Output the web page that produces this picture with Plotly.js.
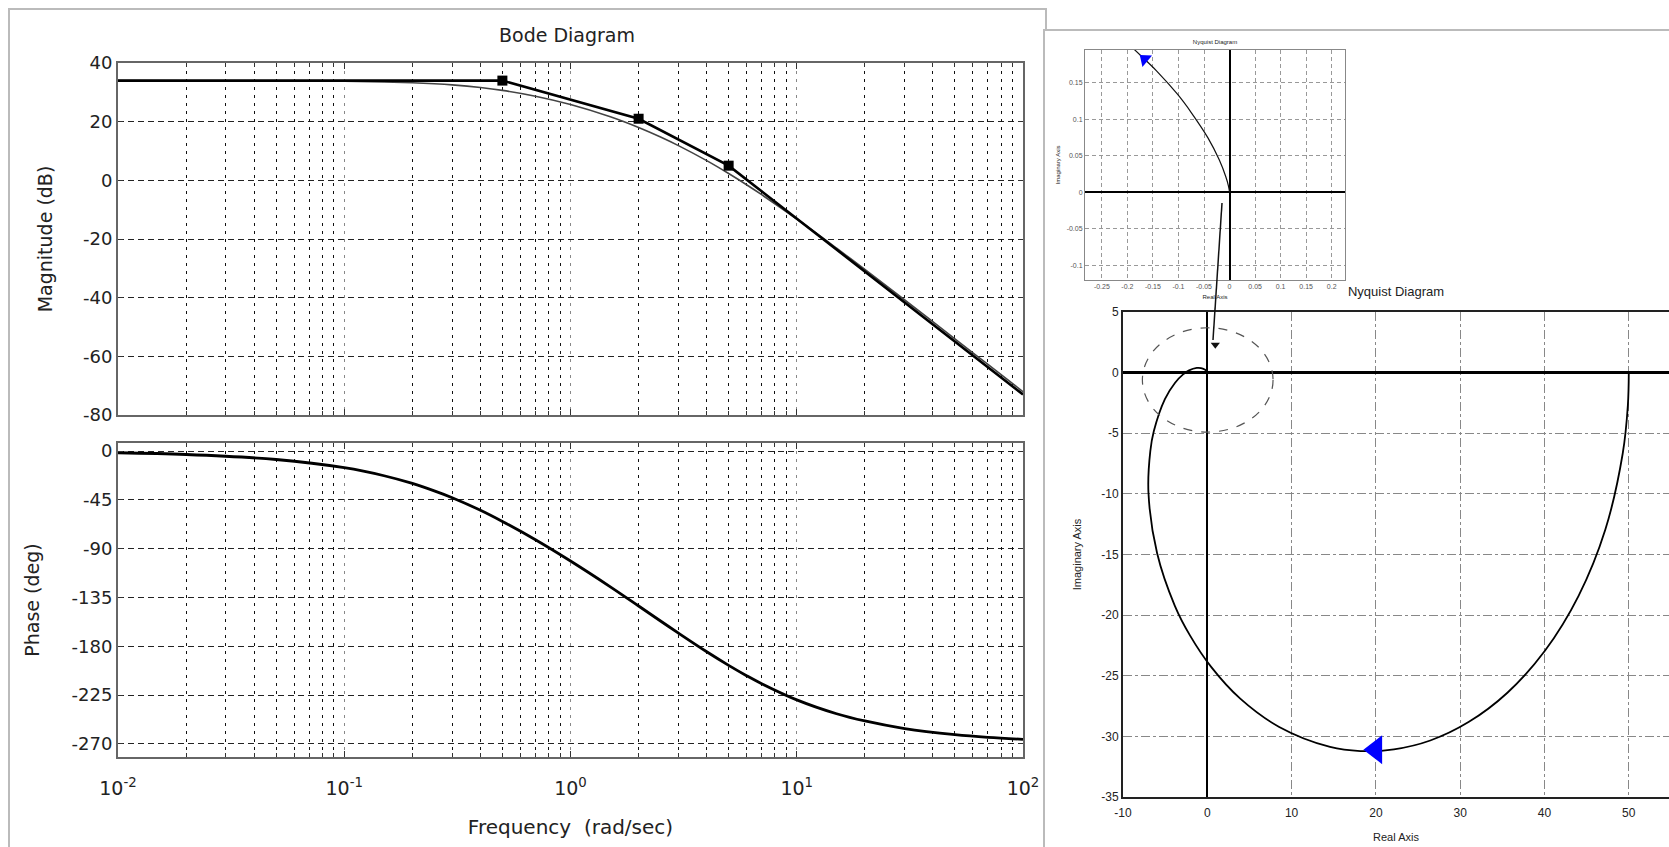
<!DOCTYPE html>
<html><head><meta charset="utf-8">
<script src="https://cdn.plot.ly/plotly-3.0.1.min.js"></script>
<style>html,body{margin:0;padding:0;background:#fff;overflow:hidden}#chart{width:1669px;height:847px}</style>
</head><body><div id="chart"></div>
<script>
// ---------- data ----------
const freq = [0.01, 0.02, 0.05, 0.1, 0.15, 0.2, 0.25, 0.3, 0.4, 0.5, 0.7, 1, 1.5, 2, 2.5, 3, 4, 5, 6, 7, 10, 15, 20, 30, 50, 70, 100];
const magDb = [33.98, 33.97, 33.93, 33.80, 33.58, 33.28, 32.93, 32.53, 31.63, 30.66, 28.68, 25.85, 21.67, 18.02, 14.77, 11.84, 6.71, 2.32, -1.50, -4.90, -13.19, -23.15, -30.40, -40.80, -54.03, -62.78, -72.05];
const phaseDeg = [-1.5, -3.1, -7.7, -15.3, -22.7, -29.8, -36.6, -42.9, -54.5, -64.8, -81.7, -101.3, -125.1, -142.8, -156.6, -167.8, -185.0, -197.5, -207.0, -214.4, -229.3, -242.1, -248.8, -255.8, -261.4, -263.9, -265.7];
const asymFreq = [0.01, 0.5, 2, 5, 100];
const asymDb = [34, 34, 21, 5, -73];
const cornerFreq = [0.5, 2, 5];
const cornerDb = [34, 21, 5];

const nyqRe = [50, 49.89, 49.28, 47.22, 44.03, 40.05, 35.60, 30.99, 26.45, 22.14, 18.16, 14.56, 8.53, 3.91, 0.48, -2.04, -3.85, -5.96, -6.98, -6.76, -6.34, -5.03, -3.82, -2.87, -2.16, -1.25, -0.75, -0.31, -0.14, -0.03, 0];
const nyqIm = [0, -2.69, -6.67, -12.94, -18.43, -22.94, -26.40, -28.82, -30.34, -31.07, -31.21, -30.87, -29.22, -26.89, -24.29, -21.69, -19.23, -14.88, -9.91, -6.47, -4.82, -2.18, -0.83, -0.14, 0.19, 0.39, 0.38, 0.26, 0.17, 0.06, 0.01];
const nyqArrowRe = [20];
const nyqArrowIm = [-31.1];
const pointerTipRe = [0.95];
const pointerTipIm = [2.3];

const zoomRe = [-0.206, -0.171, -0.143, -0.102, -0.075, -0.042, -0.020, -0.0075, -0.0022, 0];
const zoomIm = [0.208, 0.185, 0.166, 0.134, 0.109, 0.074, 0.044, 0.0215, 0.0088, 0.0];
const zoomArrowRe = [-0.166];
const zoomArrowIm = [0.182];

const magTicks = [-80, -60, -40, -20, 0, 20, 40];
const magLabels = ['-80', '-60', '-40', '-20', '0', '20', '40'];
const phaseTicks = [-270, -225, -180, -135, -90, -45, 0];
const phaseLabels = ['-270', '-225', '-180', '-135', '-90', '-45', '0'];
const freqDecades = [0.01, 0.1, 1, 10, 100];
const freqDecadeLabels = ['10<sup>-2</sup>', '10<sup>-1</sup>', '10<sup>0</sup>', '10<sup>1</sup>', '10<sup>2</sup>'];
const nyqXTicks = [-10, 0, 10, 20, 30, 40, 50];
const nyqXLabels = ['-10', '0', '10', '20', '30', '40', '50'];
const nyqYTicks = [5, 0, -5, -10, -15, -20, -25, -30, -35];
const nyqYLabels = ['5', '0', '-5', '-10', '-15', '-20', '-25', '-30', '-35'];
const insetXTicks = [-0.25, -0.2, -0.15, -0.1, -0.05, 0, 0.05, 0.1, 0.15, 0.2];
const insetXLabels = ['-0.25', '-0.2', '-0.15', '-0.1', '-0.05', '0', '0.05', '0.1', '0.15', '0.2'];
const insetYTicks = [-0.1, -0.05, 0, 0.05, 0.1, 0.15];
const insetYLabels = ['-0.1', '-0.05', '0', '0.05', '0.1', '0.15'];

// ---------- layout helpers ----------
const W = 1669, H = 847;
const px = x => x / W;
const py = y => 1 - y / H;
const dom = (a, b) => [a / W, b / W];
const domY = (top, bottom) => [1 - bottom / H, 1 - top / H];

// log grid positions 2..9 within each decade
const minorVals = [];
for (let d = -2; d <= 1; d++) {
  for (let m = 2; m <= 9; m++) minorVals.push(m * Math.pow(10, d));
}

const FONT = 'DejaVu Sans, Verdana, sans-serif';
const NARROW = 'Liberation Sans Narrow, Arial Narrow, Liberation Sans, Arial, sans-serif';
const TXT = '#222';

const traces = [
  {x: freq, y: magDb, xaxis: 'x', yaxis: 'y', mode: 'lines', line: {color: '#444', width: 1.6, shape: 'spline'}},
  {x: asymFreq, y: asymDb, xaxis: 'x', yaxis: 'y', mode: 'lines', line: {color: '#000', width: 2.6}},
  {x: cornerFreq, y: cornerDb, xaxis: 'x', yaxis: 'y', mode: 'markers', marker: {symbol: 'square', size: 10, color: '#000'}},
  {x: freq, y: phaseDeg, xaxis: 'x2', yaxis: 'y2', mode: 'lines', line: {color: '#000', width: 2.8, shape: 'spline'}},
  {x: zoomRe, y: zoomIm, xaxis: 'x3', yaxis: 'y3', mode: 'lines', line: {color: '#111', width: 1.2, shape: 'spline'}},
  {x: zoomArrowRe, y: zoomArrowIm, xaxis: 'x3', yaxis: 'y3', mode: 'markers', marker: {symbol: 'triangle-left', angle: 40, size: 13, color: '#0000ff'}},
  {x: nyqRe, y: nyqIm, xaxis: 'x4', yaxis: 'y4', mode: 'lines', line: {color: '#000', width: 1.8, shape: 'spline'}},
  {x: nyqArrowRe, y: nyqArrowIm, xaxis: 'x4', yaxis: 'y4', mode: 'markers', marker: {symbol: 'triangle-left', size: 25, color: '#0000ff'}},
  {x: pointerTipRe, y: pointerTipIm, xaxis: 'x4', yaxis: 'y4', mode: 'markers', marker: {symbol: 'triangle-down', size: 8, color: '#111'}}
];
// empty carrier traces so that the helper axes (minor grids / titles) are drawn
[['x5', 'y'], ['x6', 'y2'], ['x7', 'y2'], ['x8', 'y3'], ['x9', 'y3'], ['x10', 'y4'], ['x11', 'y4'],
 ['x', 'y5'], ['x2', 'y6'], ['x3', 'y7'], ['x4', 'y8']].forEach(p => {
  traces.push({x: [null], y: [null], xaxis: p[0], yaxis: p[1], mode: 'lines', hoverinfo: 'skip', showlegend: false});
});

const bodeX = {
  type: 'log', range: [-2, 2], tickmode: 'array', tickvals: freqDecades, ticktext: freqDecadeLabels, tickangle: 0,
  showgrid: true, gridcolor: '#888', griddash: '3px,5px', gridwidth: 1,
  ticks: 'inside', ticklen: 6, tickcolor: '#333',
  showline: true, mirror: 'ticks', linecolor: '#666', linewidth: 2, zeroline: false,
  tickfont: {family: FONT, size: 19, color: TXT}
};
const minorX = {
  type: 'log', range: [-2, 2], tickmode: 'array', tickvals: minorVals, showticklabels: false,
  showgrid: true, gridcolor: '#111', griddash: '3px,5px', gridwidth: 1,
  ticks: 'inside', ticklen: 4, tickcolor: '#333', mirror: 'ticks', showline: false, zeroline: false
};
const bodeY = {
  showgrid: true, gridcolor: '#222', griddash: '6px,4px', gridwidth: 1,
  ticks: 'inside', ticklen: 5, tickcolor: '#333', tickmode: 'array',
  showline: true, mirror: 'ticks', linecolor: '#666', linewidth: 2, zeroline: false,
  tickfont: {family: FONT, size: 18, color: TXT}
};

// invisible axes that only carry a title.
// x bottom: baseline = pos + 10 + 2*fs ; x top: baseline = pos - 10 - 1.5*fs ; y left: baseline = pos - 10 - 1.5*fs
function carrierX(over, text, family, fs, centerY, side) {
  const base = centerY + 0.33 * fs;
  const pos = side === 'top' ? base + 10 + 1.5 * fs : base - 10 - 2 * fs;
  return {overlaying: over, anchor: 'free', position: py(pos), side: side || 'bottom', range: [0, 1],
    showgrid: false, zeroline: false, showline: false, ticks: '', showticklabels: false,
    title: {text: text, font: {family: family, size: fs, color: TXT}}};
}
function carrierY(over, text, family, fs, centerX) {
  const base = centerX + 0.33 * fs;
  const pos = base + 10 + 1.5 * fs;
  return {overlaying: over, anchor: 'free', position: px(pos), side: 'left', range: [0, 1],
    showgrid: false, zeroline: false, showline: false, ticks: '', showticklabels: false,
    title: {text: text, font: {family: family, size: fs, color: TXT}}};
}

const layout = {
  width: W, height: H, margin: {l: 0, r: 0, t: 0, b: 0},
  paper_bgcolor: '#fff', plot_bgcolor: '#fff', showlegend: false,
  title: {text: 'Bode Diagram', x: px(567), y: py(35), xref: 'paper', yref: 'paper', xanchor: 'center', yanchor: 'middle',
    font: {family: FONT, size: 19, color: TXT}},
  xaxis: Object.assign({}, bodeX, {domain: dom(118, 1023), anchor: 'y', showticklabels: false}),
  yaxis: Object.assign({}, bodeY, {domain: domY(63, 415), anchor: 'x', range: [-80, 40], tickvals: magTicks, ticktext: magLabels}),
  xaxis2: Object.assign({}, bodeX, {domain: dom(118, 1023), anchor: 'y2', showticklabels: true, ticklabelstandoff: 13}),
  yaxis2: Object.assign({}, bodeY, {domain: domY(443, 757), anchor: 'x2', range: [-282, 7.5], tickvals: phaseTicks, ticktext: phaseLabels}),
  xaxis5: Object.assign({}, minorX, {overlaying: 'x', anchor: 'y'}),
  xaxis6: Object.assign({}, minorX, {overlaying: 'x2', anchor: 'y2'}),
  xaxis3: {
    domain: dom(1085, 1345), anchor: 'y3', range: [-0.283, 0.226], tickmode: 'array', tickvals: insetXTicks, ticktext: insetXLabels,
    showgrid: true, gridcolor: '#999', griddash: '4px,3px', gridwidth: 1,
    showline: true, mirror: true, linecolor: '#888', linewidth: 1,
    zeroline: true, zerolinecolor: '#000', zerolinewidth: 2, ticks: '', tickangle: 0,
    tickfont: {family: NARROW, size: 7, color: '#555'}
  },
  yaxis3: {
    domain: domY(50, 280), anchor: 'x3', range: [-0.12, 0.1945], tickmode: 'array', tickvals: insetYTicks, ticktext: insetYLabels,
    showgrid: true, gridcolor: '#999', griddash: '4px,3px', gridwidth: 1,
    showline: true, mirror: true, linecolor: '#888', linewidth: 1,
    zeroline: true, zerolinecolor: '#000', zerolinewidth: 1.5, ticks: '',
    tickfont: {family: NARROW, size: 7, color: '#555'}
  },
  xaxis4: {
    domain: dom(1123, W), anchor: 'y4', range: [-10, 54.77], tickmode: 'array', tickvals: nyqXTicks, ticktext: nyqXLabels,
    showgrid: true, gridcolor: '#888', griddash: 'dashdot', gridwidth: 1,
    showline: true, mirror: true, linecolor: '#222', linewidth: 2,
    zeroline: true, zerolinecolor: '#000', zerolinewidth: 2, ticks: '', ticklabelstandoff: 4, tickangle: 0,
    tickfont: {family: NARROW, size: 12, color: TXT}
  },
  yaxis4: {
    domain: domY(312, 797), anchor: 'x4', range: [-35, 5], tickmode: 'array', tickvals: nyqYTicks, ticktext: nyqYLabels,
    showgrid: true, gridcolor: '#888', griddash: 'dashdot', gridwidth: 1,
    showline: true, mirror: false, linecolor: '#222', linewidth: 2,
    zeroline: true, zerolinecolor: '#000', zerolinewidth: 2.5, ticks: '',
    tickfont: {family: NARROW, size: 12, color: TXT}
  },
  // title carriers
  xaxis7: carrierX('x2', 'Frequency  (rad/sec)', FONT, 20, 827),
  xaxis8: carrierX('x3', 'Real Axis', NARROW, 6, 297),
  xaxis9: carrierX('x3', 'Nyquist Diagram', NARROW, 6, 42, 'top'),
  xaxis10: carrierX('x4', 'Nyquist Diagram', NARROW, 13, 292, 'top'),
  xaxis11: carrierX('x4', 'Real Axis', NARROW, 11, 837),
  yaxis5: carrierY('y', 'Magnitude (dB)', FONT, 19, 46),
  yaxis6: carrierY('y2', 'Phase (deg)', FONT, 19, 33),
  yaxis7: carrierY('y3', 'Imaginary Axis', NARROW, 6, 1058),
  yaxis8: carrierY('y4', 'Imaginary Axis', NARROW, 11, 1077),
  shapes: [
    {type: 'rect', xref: 'paper', yref: 'paper', x0: px(9), x1: px(1046), y0: py(860), y1: py(9), line: {color: '#bbb', width: 2}, layer: 'below'},
    {type: 'rect', xref: 'paper', yref: 'paper', x0: px(1044), x1: px(1700), y0: py(870), y1: py(30), line: {color: '#bbb', width: 2}, fillcolor: '#fff', layer: 'below'},
    {type: 'circle', xref: 'x4', yref: 'y4', x0: -7.7, x1: 7.8, y0: -4.9, y1: 3.7, line: {color: '#555', width: 1.2, dash: 'dash'}},
    {type: 'line', xref: 'paper', yref: 'paper', x0: px(1222), y0: py(203), x1: px(1213), y1: py(340), line: {color: '#111', width: 1.5}}
  ]
};

Plotly.newPlot('chart', traces, layout, {staticPlot: true, displayModeBar: false});
</script>
</body></html>
